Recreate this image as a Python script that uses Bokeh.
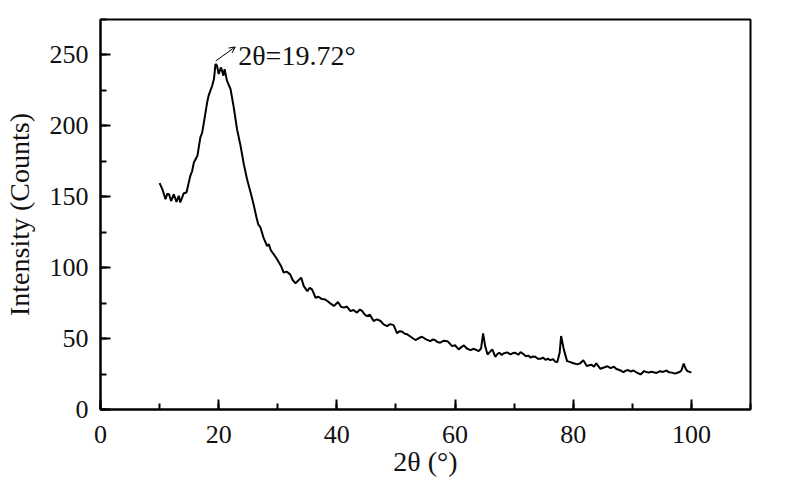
from bokeh.plotting import figure
from bokeh.models import SingleIntervalTicker, Label, Arrow, OpenHead, Range1d
from bokeh.embed import file_html
from bokeh.resources import INLINE

two_theta = [10.0, 10.5, 11.0, 11.3, 11.6, 11.95, 12.4, 12.86, 13.25, 13.5, 14.1, 14.55,
             15.2, 15.5, 15.8, 16.4, 16.9, 17.2, 17.5, 18.05, 18.3, 18.6, 18.9, 19.2, 19.46, 19.72, 20.0,
             20.4, 20.8, 21.0, 21.4, 22.0, 22.55, 23.1, 23.7, 24.25, 24.8, 25.4, 25.9,
             26.4, 26.7, 27.07, 27.6, 28.2, 28.5, 28.8, 29.3, 29.7, 30.2, 30.6, 31.0, 31.5, 32.1,
             32.5, 33.0, 33.96, 34.4, 35.0, 35.4, 35.8, 36.4, 36.9, 37.4, 37.9, 38.4, 38.9, 39.5,
             40.2, 40.7, 41.2, 41.7, 42.3, 42.8, 43.4, 43.9, 44.3, 44.7, 45.1, 45.6, 46.2, 46.8,
             47.4, 47.9, 48.5, 49.0, 49.6, 50.2, 50.6, 51.0, 51.5, 51.9, 52.5, 53.3, 53.9, 54.4,
             55.1, 55.8, 56.2, 56.6, 57.0, 57.5, 58.1, 58.7, 59.1, 59.5, 60.0, 60.6, 61.0, 61.5,
             62.0, 62.6, 63.2, 64.0, 64.4, 64.75, 65.1, 65.5, 65.9, 66.3, 66.8, 67.2, 67.5, 67.9,
             68.2, 68.8, 69.4, 69.8, 70.2, 70.7, 71.1, 71.6, 72.0, 72.4, 72.8, 73.2, 73.6, 74.0,
             74.5, 74.9, 75.3, 75.7, 76.1, 76.6, 77.0, 77.3, 77.7, 77.95, 78.4, 78.96, 79.4,
             79.8, 80.2, 80.7, 81.2, 81.7, 82.3, 82.7, 83.1, 83.5, 83.9, 84.6, 85.2, 85.8, 86.3,
             86.9, 87.3, 87.7, 88.1, 88.5, 88.9, 89.3, 89.7, 90.2, 90.8, 91.4, 92.0, 92.4, 92.8,
             93.2, 93.6, 94.1, 94.7, 95.2, 95.8, 96.2, 96.7, 97.2, 97.6, 98.0, 98.3, 98.7, 99.0,
             99.3, 99.7, 100.0]
intensity = [159.6, 155.0, 148.3, 152.0, 151.8, 147.0, 151.8, 146.4, 150.7, 146.0, 152.5, 153.0,
             164.8, 168.0, 174.2, 178.9, 191.9, 195.0, 202.5, 216.6, 221.3, 224.8, 228.3, 233.0, 243.6, 242.4, 236.6,
             241.2, 235.4, 240.0, 231.9, 226.0, 213.0, 197.7, 186.0, 173.0, 162.4, 153.0, 144.8,
             135.4, 130.5, 128.3, 121.0, 115.3, 116.5, 112.5, 109.5, 107.2, 103.6, 100.8, 96.5, 97.2, 95.3,
             91.5, 89.0, 93.0, 87.0, 83.5, 85.8, 84.7, 78.8, 79.5, 78.0, 77.8, 76.5, 74.8, 73.0,
             75.8, 72.5, 71.8, 72.6, 69.4, 70.2, 68.3, 70.5, 69.4, 67.0, 65.9, 66.8, 62.4, 63.5,
             62.4, 60.0, 58.8, 60.2, 59.5, 53.7, 55.2, 55.0, 53.4, 53.0, 51.3, 49.0, 50.4, 51.3,
             49.5, 48.2, 49.3, 49.0, 47.6, 47.1, 48.5, 48.2, 46.5, 44.7, 45.3, 42.4, 43.8, 45.2,
             43.0, 41.9, 42.8, 41.2, 43.0, 53.7, 44.7, 38.8, 40.6, 42.4, 37.2, 39.2, 40.0, 38.5,
             39.5, 40.3, 38.8, 39.8, 40.0, 38.6, 40.5, 39.0, 37.5, 38.0, 36.5, 37.4, 37.2, 35.8,
             35.8, 36.6, 35.0, 35.8, 34.8, 35.4, 33.6, 33.4, 40.0, 51.8, 42.4, 34.1, 33.6,
             33.0, 32.4, 31.8, 32.6, 34.8, 30.6, 31.2, 31.5, 30.2, 32.5, 28.7, 29.6, 30.5, 29.2,
             30.1, 28.6, 28.0, 27.3, 26.3, 27.4, 27.8, 26.8, 27.5, 25.9, 24.7, 27.1, 26.4, 26.0,
             26.6, 26.3, 25.8, 27.0, 26.5, 27.5, 26.2, 26.0, 25.3, 25.9, 26.4, 27.5, 32.3, 29.0,
             27.1, 26.5, 26.3]

x_start, x_end = 0, 110
y_start, y_end = 0, 275
peak_label = "2θ=19.72°"

p = figure(width=790, height=490, output_backend="svg", toolbar_location=None,
           x_range=Range1d(x_start, x_end), y_range=Range1d(y_start, y_end),
           min_border_left=100, min_border_right=40, min_border_top=19, min_border_bottom=81)
p.background_fill_color = "white"
p.border_fill_color = "white"
p.outline_line_color = "black"
p.outline_line_width = 2
p.xgrid.visible = False
p.ygrid.visible = False

p.line(two_theta, intensity, line_color="black", line_width=2)

p.xaxis.ticker = SingleIntervalTicker(interval=20, num_minor_ticks=2)
p.yaxis.ticker = SingleIntervalTicker(interval=50, num_minor_ticks=2)
for ax in (p.xaxis[0], p.yaxis[0]):
    ax.axis_line_color = "black"
    ax.axis_line_width = 2
    ax.major_tick_in = 10
    ax.major_tick_out = 0
    ax.minor_tick_in = 6
    ax.minor_tick_out = 0
    ax.major_tick_line_width = 2
    ax.minor_tick_line_width = 2
    ax.major_tick_line_color = "black"
    ax.minor_tick_line_color = "black"
    ax.major_label_text_font = "Liberation Serif"
    ax.major_label_text_font_size = "26px"
    ax.major_label_text_color = "#111111"
    ax.axis_label_text_font = "Liberation Serif"
    ax.axis_label_text_font_size = "28px"
    ax.axis_label_text_font_style = "normal"
    ax.axis_label_text_color = "#111111"

p.xaxis.axis_label = "2θ (°)"
p.yaxis.axis_label = "Intensity (Counts)"
p.xaxis.major_label_standoff = 16
p.yaxis.major_label_standoff = 12
p.xaxis.axis_label_standoff = 0
p.yaxis.axis_label_standoff = 12

p.add_layout(Label(x=23.3, y=249.3, text=peak_label, text_font="Liberation Serif",
                   text_font_size="28px", text_color="#111111",
                   text_align="left", text_baseline="alphabetic"))
p.add_layout(Arrow(end=OpenHead(size=6, line_width=1, line_color="black"),
                   x_start=19.5, y_start=245.8, x_end=22.8, y_end=255.6,
                   line_width=1, line_color="black"))

open("out.html", "w").write(file_html(p, INLINE))
